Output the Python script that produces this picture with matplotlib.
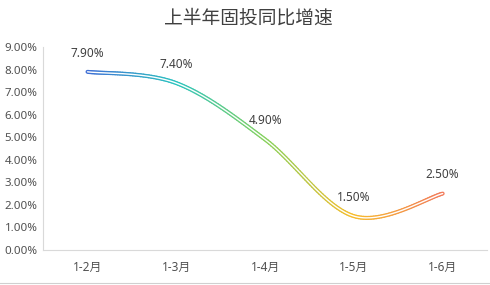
import numpy as np
import matplotlib
matplotlib.use("Agg")
import matplotlib.pyplot as plt
from matplotlib.collections import LineCollection
from matplotlib.colors import LinearSegmentedColormap
from matplotlib.lines import Line2D
from matplotlib.ticker import FuncFormatter

plt.rcParams['font.family'] = ['Noto Sans', 'Noto Sans CJK SC', 'DejaVu Sans']

title = "上半年固投同比增速"
months = ["1-2月", "1-3月", "1-4月", "1-5月", "1-6月"]
growth = [7.90, 7.40, 4.90, 1.50, 2.50]

# gradient along the line, one colour per category
grad_colors = ["#3f6fd6", "#2cc4c0", "#86d25e", "#f7bd2c", "#f27c5c"]


def smooth(xs, ys, sx, sy, n=40):
    # Catmull-Rom style smoothing (like Excel's smoothed line), done in pixel scale
    px = np.array(xs) * sx
    py = np.array(ys) * sy
    pts = np.column_stack([px, py])
    pts = np.vstack([pts[0], pts, pts[-1]])
    out = []
    for i in range(1, len(pts) - 2):
        p0, p1, p2, p3 = pts[i - 1], pts[i], pts[i + 1], pts[i + 2]
        c1 = p1 + (p2 - p0) / 6
        c2 = p2 - (p3 - p1) / 6
        t = np.linspace(0, 1, n)[:, None]
        seg = ((1 - t) ** 3) * p1 + 3 * ((1 - t) ** 2) * t * c1 + 3 * (1 - t) * t ** 2 * c2 + t ** 3 * p2
        if i > 1:
            seg = seg[1:]
        out.append(seg)
    out = np.vstack(out)
    return out[:, 0] / sx, out[:, 1] / sy


fig = plt.figure(figsize=(4.9, 2.85), dpi=100)
ax = fig.add_axes([0.088, 0.123, 0.906, 0.712])

x = np.arange(len(months))
sx_, sy_ = smooth(x, growth, 88.8, 22.6)

pts = np.column_stack([sx_, sy_]).reshape(-1, 1, 2)
segs = np.concatenate([pts[:-1], pts[1:]], axis=1)
cmap = LinearSegmentedColormap.from_list("g", grad_colors)
lc = LineCollection(segs, cmap=cmap, linewidths=2.9, capstyle='round', zorder=3)
lc.set_array((sx_[:-1] + sx_[1:]) / 2 / (len(months) - 1))
lc.set_clim(0, 1)
ax.add_collection(lc)
ax.plot(sx_, sy_, color="white", lw=1.0, zorder=4, solid_capstyle='round')

for i, v in enumerate(growth):
    ax.annotate("%.2f%%" % v, (x[i], v), xytext=(0, 11), textcoords="offset points",
                ha="center", fontsize=8.5, color="#404040")

ax.set_xlim(-0.5, len(months) - 0.5)
ax.set_ylim(0, 9)
ax.set_yticks(np.arange(0, 10, 1))
ax.yaxis.set_major_formatter(FuncFormatter(lambda v, p: "%.2f%%" % v))
ax.set_xticks(x)
ax.set_xticklabels(months)
ax.tick_params(length=0, labelsize=8.3, colors="#505050")
ax.tick_params(axis="x", pad=8, labelsize=8.5)
ax.tick_params(axis="y", pad=4)
for s in ["top", "right"]:
    ax.spines[s].set_visible(False)
for s in ["left", "bottom"]:
    ax.spines[s].set_color("#d9d9d9")
    ax.spines[s].set_linewidth(0.8)

fig.text(0.506, 0.935, title, ha="center", va="center", fontsize=13.5, color="#404040",
         family=['Noto Sans CJK SC', 'DejaVu Sans'])
fig.add_artist(Line2D([0, 1], [0.007, 0.007], color="#d0d0d0", lw=0.8))

fig.savefig("out.png", dpi=100)
